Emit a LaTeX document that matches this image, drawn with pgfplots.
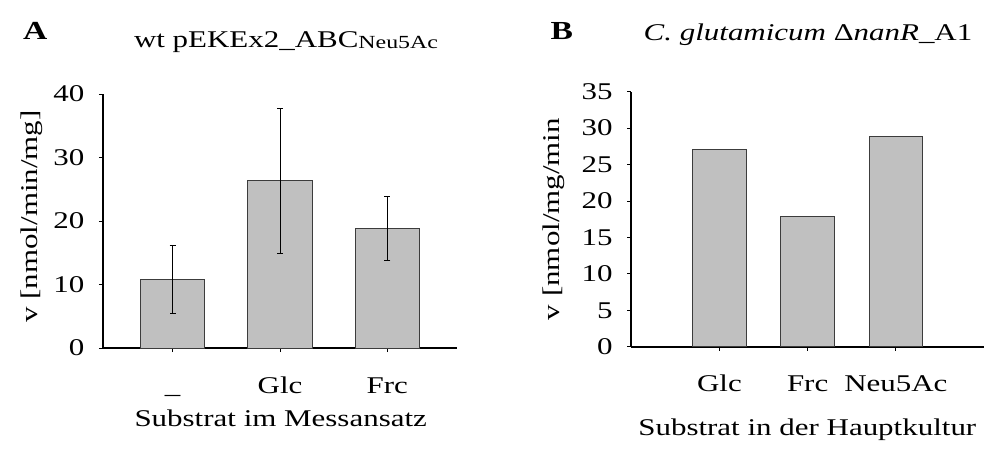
\documentclass[border=0pt]{standalone}
\usepackage{fontspec}
\setmainfont{Liberation Serif}[FakeStretch=1.29]
\usepackage{pgfplots}
\pgfplotsset{compat=1.18}
\definecolor{barfill}{RGB}{192,192,192}
\definecolor{baredge}{RGB}{60,60,60}
\pgfplotsset{
  panel/.style={
    scale only axis,
    axis x line=bottom, axis y line=left,
    axis line style={-, line width=1.8pt, black},
    tick align=outside,
    major tick length=4pt,
    tick style={line width=0.8pt, black},
    ymin=0,
    /pgf/number format/assume math mode=true,
    yticklabel style={anchor=east, inner sep=0pt, xshift=-14.4pt},
    xticklabel style={anchor=base, inner sep=0pt, yshift=-41pt},
    xtick=data,
    ybar, bar shift=0pt,
    title style={anchor=base, inner sep=0pt},
    xlabel style={anchor=base, inner sep=0pt},
    ylabel style={anchor=base, inner sep=0pt},
  },
  barstyle/.style={fill=barfill, draw=baredge, line width=0.9pt},
}
\begin{document}
\fontsize{24}{28}\selectfont
\begin{tikzpicture}[font=\fontsize{24}{28}\selectfont]
\useasboundingbox (0,0) rectangle (984pt,451pt);
% Panel A
\begin{axis}[panel,
  at={(103pt,103pt)}, anchor=south west,
  width=354pt, height=254pt,
  xmin=-0.65, xmax=2.65, ymax=40,
  ytick={0,10,20,30,40},
  xticklabels={\_, Glc, Frc},
  bar width=64.4pt,
  title={wt pEKEx2\_ABC{\fontsize{18.5}{20}\selectfont\raisebox{-1.5pt}{Neu5Ac}}},
  title style={at={(axis description cs:0.517,1.1614)}},
  xlabel={Substrat im Messansatz},
  xlabel style={at={(axis description cs:0.502,-0.3098)}},
  ylabel={v [nmol/min/mg]},
  ylabel style={at={(axis description cs:-0.1864,0.5177)}},
]
\addplot[barstyle, error bars/.cd, y dir=both, y explicit,
  error bar style={line width=0.8pt, black},
  error mark options={rotate=90, mark size=3pt, line width=0.8pt, black}]
  coordinates {(0,10.81) +- (0,5.33) (1,26.33) +- (0,11.42) (2,18.85) +- (0,4.99)};
\end{axis}
% Panel B
\begin{axis}[panel,
  at={(631.3pt,104.3pt)}, anchor=south west,
  width=352.7pt, height=255pt,
  xmin=0, xmax=4, ymax=35,
  ytick={0,5,10,15,20,25,30,35},
  xticklabels={Glc, Frc, Neu5Ac},
  bar width=53.6pt,
  title={\textit{C. glutamicum} {\char"0394}\textit{nanR}\_A1},
  title style={at={(axis description cs:0.501,1.179)}},
  xlabel={Substrat in der Hauptkultur},
  xlabel style={at={(axis description cs:0.499,-0.3463)}},
  ylabel={v [nmol/mg/min},
  ylabel style={at={(axis description cs:-0.2022,0.5008)}},
]
\addplot[barstyle] coordinates {(1,27.1) (2,17.9) (3,28.9)};
\end{axis}
\node[anchor=base west, inner sep=0pt, font=\fontsize{26}{28}\selectfont\bfseries] at (23pt,411.7pt) {A};
\node[anchor=base west, inner sep=0pt, font=\fontsize{26}{28}\selectfont\bfseries] at (550.3pt,411.7pt) {B};
\end{tikzpicture}
\end{document}
